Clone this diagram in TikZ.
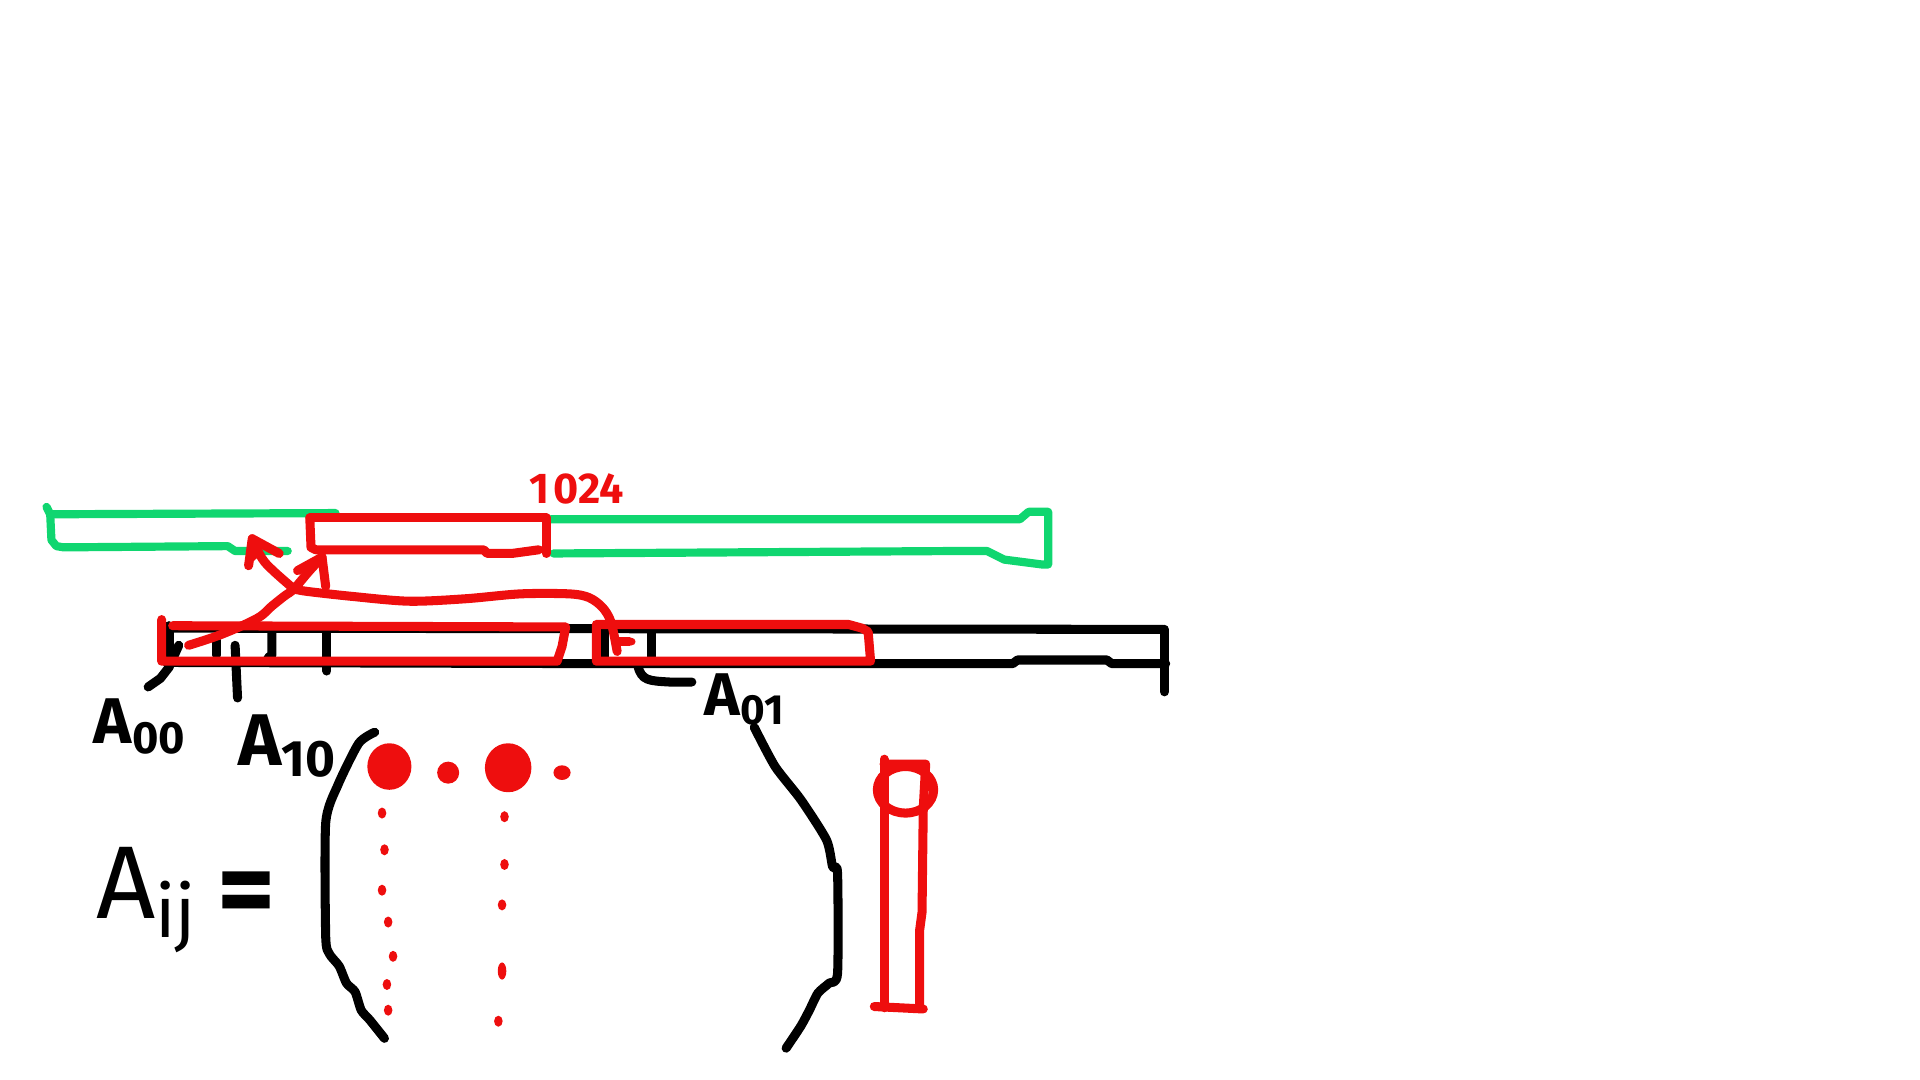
\documentclass[tikz,border=0pt]{standalone}
\usepackage{fontspec}
\setsansfont{Fira Sans}
\usetikzlibrary{arrows.meta}
\definecolor{sred}{RGB}{238,14,14}
\definecolor{sgreen}{RGB}{16,214,112}
\tikzset{
  pen/.style={line width=2.1pt, line cap=round, line join=round},
  kpen/.style={pen, draw=black},
  rpen/.style={pen, draw=sred},
  gpen/.style={pen, draw=sgreen, line width=1.9pt},
  lbl/.style={anchor=base west, inner sep=0pt, font=\sffamily\bfseries, text=black},
}
\begin{document}
\begin{tikzpicture}[x={(0.01cm,0)}, y={(0,-0.01cm)}]
\useasboundingbox (0,0) rectangle (1568,882);

% ---------- black array ----------
\draw[kpen] (136,513) -- (950,514);
\draw[kpen] (136,541) -- (500,542) -- (827,542) -- (831,539) -- (904,539) -- (908,542) -- (952,542);
\draw[kpen] (951,514) -- (951,565);
\draw[kpen] (138,511) -- (138,540);
\draw[kpen] (177,523) -- (177,535);
\draw[kpen] (192,527) -- (194,570);
\draw[kpen] (222,517) -- (222,535) -- (219,537);
\draw[kpen] (267,517) -- (267,548);
\draw[kpen] (494,514) -- (494,539);
\draw[kpen] (532,516) -- (532,537);
% pointer hooks
\draw[kpen] (146,527) -- (138,545) -- (131,554) -- (121,561);
\draw[kpen] (521,544) .. controls (524,556) and (530,556) .. (547,557) -- (565,557);

% ---------- green bars ----------
\draw[gpen] (38,414) -- (41,420) -- (274,419);
\draw[gpen] (41,420) -- (42,441) -- (46,446) -- (52,447) -- (186,446) -- (192,450) -- (235,450);
\draw[gpen] (450,424) -- (833,424) -- (840,418) -- (856,418) -- (856,461) -- (851,461)
  -- (820,457) -- (806,450) -- (780,450) -- (452,452);

% ---------- red top box + label ----------
\draw[rpen] (253,423) -- (446,423) -- (446,452);
\draw[rpen] (253,423) -- (254,447) -- (258,449) -- (395,449) -- (398,452) -- (418,452) -- (440,449);
\node[font=\sffamily\bfseries\fontsize{10}{10}\selectfont, text=sred, inner sep=0pt] (n1024) at (471,399) {1\kern1pt024};

% ---------- red boxes on array ----------
\draw[rpen] (132,506) -- (132,540) -- (455,540) -- (459,528) -- (462,512) -- (141,511);
\draw[rpen] (487,540) -- (487,510) -- (693,510) -- (704,513) -- (709,516) -- (711,540) -- cycle;

% ---------- red arrows ----------
\coordinate (src) at (154,527);
\coordinate (jn) at (240,481);
\coordinate (tipA) at (263,455);
\coordinate (tipB) at (206,440);
\coordinate (dst) at (504,532);
\draw[rpen] plot[smooth, tension=0.6] coordinates {(src) (181,518) (210,505) (222,495) (232,487) (jn) (252,467) (tipA)};
\draw[rpen] (243,466) -- (tipA) -- (266,479);
\draw[rpen] plot[smooth, tension=0.6] coordinates {(jn) (223,466) (214,456) (tipB)};
\draw[rpen] (203,462) -- (tipB) -- (228,452);
\fill[sred] (203,462) -- (tipB) -- (214,452) -- cycle;
\draw[rpen] plot[smooth, tension=0.5] coordinates {(jn) (251,483) (287,487) (334,491) (380,489) (425,485) (465,485) (481,488) (492,496) (499,508) (dst)};
\draw[rpen] (505,524) -- (514,524);
\fill[sred] (516,524) circle (3);

% ---------- labels ----------
\node[lbl, font=\sffamily\bfseries\fontsize{15}{15}\selectfont] (a00) at (76,607) {A\textsubscript{00}};
\node[lbl, font=\sffamily\bfseries\fontsize{17}{17}\selectfont] (a10) at (194,625) {A\textsubscript{10}};
\node[lbl, font=\sffamily\bfseries\fontsize{14}{14}\selectfont] (a01) at (575,584) {A\textsubscript{01}};
\node[lbl, font=\sffamily\fontsize{24}{24}\selectfont] (aij) at (78,750) {A\textsubscript{ij}};
\node[font=\sffamily\bfseries\fontsize{26}{26}\selectfont, inner sep=0pt] (eq) at (201,735) {=};

% ---------- matrix brackets ----------
\draw[kpen] plot[smooth, tension=0.4] coordinates {(306,598) (293,607) (276,641) (266,672) (266,765) (269,779) (277,789) (283,803) (290,810) (295,825) (302,833) (314,848)};
\draw[kpen] plot[smooth, tension=0.4] coordinates {(616,594) (633,626) (654,653) (675,686) (680,708) (684,713) (684,795) (677,803) (668,811) (661,825) (654,838) (642,856)};

% ---------- red dots ----------
\fill[sred] (318,626) ellipse (18 and 19);
\fill[sred] (366,631) ellipse (9 and 9);
\fill[sred] (415,627) ellipse (19 and 20);
\fill[sred] (459,631) ellipse (7 and 6);
\foreach \p in {(312,664),(314,694),(312,727),(317,753),(321,781),(316,804),(317,825)}
  \fill[sred] \p ellipse (3.5 and 4.5);
\foreach \p in {(412,667),(412,706),(410,739),(407,834)}
  \fill[sred] \p ellipse (3.5 and 4.5);
\fill[sred] (410,793) ellipse (3.5 and 7);

% ---------- red column with circle ----------
\draw[rpen] (722,620) -- (722,823);
\draw[rpen] (714,822) -- (754,824);
\draw[rpen] (722,624) -- (756,624) -- (754,660) -- (753,745) -- (751,760) -- (751,823);
\draw[rpen] (739.5,645) ellipse (23 and 19);
\end{tikzpicture}
\end{document}
